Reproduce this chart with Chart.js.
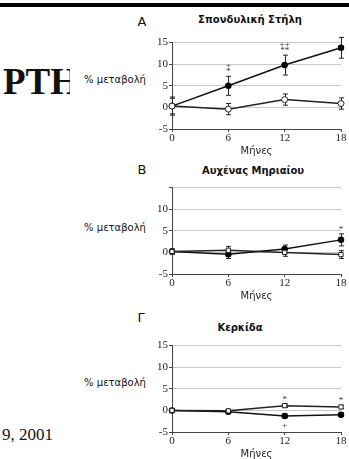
<!DOCTYPE html>
<html>
<head>
<meta charset="utf-8">
<script src="https://cdn.jsdelivr.net/npm/chart.js@4.4.0/dist/chart.umd.min.js"></script>
<style>
  body { margin: 0; width: 349px; height: 459px; overflow: hidden; background: #fff; position: relative; font-family: "DejaVu Sans", sans-serif; color: #111; }
  .t { position: absolute; transform: translate(-50%, -50%); white-space: nowrap; }
  .ttl { font-weight: bold; font-size: 10px; }
  .lbl { font-size: 10px; }
  .let { font-size: 13px; }
  canvas { position: absolute; left: 150px; }
</style>
</head>
<body>
<div style="position:absolute;left:0;top:3px;width:349px;height:4px;background:#000"></div>
<div style="position:absolute;left:3px;top:61px;width:67px;height:42px;overflow:hidden;font:bold 37px 'Liberation Serif',serif;line-height:42px">PTH</div>
<div style="position:absolute;left:2px;top:424px;font:17px 'Liberation Serif',serif;line-height:22px">9, 2001</div>

<div class="t let" style="left:142px;top:21px">A</div>
<div class="t ttl" style="left:250px;top:19px">Σπονδυλική Στήλη</div>
<div class="t lbl" style="left:115px;top:79px">% μεταβολή</div>
<canvas id="chA" width="199" height="125" style="top:35px"></canvas>

<div class="t let" style="left:142px;top:169px">B</div>
<div class="t ttl" style="left:253px;top:170px">Αυχένας Μηριαίου</div>
<div class="t lbl" style="left:115px;top:227px">% μεταβολή</div>
<canvas id="chB" width="199" height="125" style="top:180px"></canvas>

<div class="t let" style="left:141px;top:317px">Γ</div>
<div class="t ttl" style="left:240px;top:327px">Κερκίδα</div>
<div class="t lbl" style="left:115px;top:382px">% μεταβολή</div>
<canvas id="chC" width="199" height="125" style="top:338px"></canvas>

<script>
const months = [0, 6, 12, 18];
const yMin = -5, yMax = 15, yStep = 5;

// Σπονδυλική Στήλη
const spineFilled = [0.3, 5.0, 9.8, 13.8];
const spineFilledErr = [2.1, 2.2, 2.3, 2.4];
const spineOpen = [0.3, -0.4, 1.8, 0.9];
const spineOpenErr = [1.8, 1.3, 1.3, 1.3];
const spineFilledNotes = ['', '+\n*', '++\n**', '++\n**'];

// Αυχένας Μηριαίου
const femurFilled = [0.2, -0.4, 0.8, 2.9];
const femurFilledErr = [0.6, 1.0, 0.9, 1.4];
const femurOpen = [0.2, 0.5, 0.0, -0.5];
const femurOpenErr = [0.5, 0.9, 0.9, 0.9];
const femurFilledNotes = ['', '', '', '*'];

// Κερκίδα
const radiusFilled = [0.0, -0.3, -1.3, -1.0];
const radiusFilledErr = [0.2, 0.3, 0.4, 0.4];
const radiusOpen = [0.0, -0.1, 1.1, 0.8];
const radiusOpenErr = [0.2, 0.3, 0.4, 0.4];
const radiusOpenNotes = ['', '', '*', '*'];
const radiusFilledNotesBelow = ['', '', '+', ''];

const errorBars = {
  id: 'errorBars',
  beforeDatasetsDraw(chart) {
    const ctx = chart.ctx, x = chart.scales.x, y = chart.scales.y;
    chart.data.datasets.forEach(ds => {
      if (!ds.errors) return;
      ctx.save();
      ctx.strokeStyle = '#222';
      ctx.lineWidth = 1;
      ds.data.forEach((p, i) => {
        const px = Math.round(x.getPixelForValue(p.x)) + 0.5;
        const top = y.getPixelForValue(p.y + ds.errors[i]);
        const bot = y.getPixelForValue(p.y - ds.errors[i]);
        ctx.beginPath();
        ctx.moveTo(px, top); ctx.lineTo(px, bot);
        ctx.moveTo(px - 2.5, top); ctx.lineTo(px + 2.5, top);
        ctx.moveTo(px - 2.5, bot); ctx.lineTo(px + 2.5, bot);
        ctx.stroke();
      });
      ctx.restore();
    });
  },
  afterDatasetsDraw(chart) {
    const ctx = chart.ctx, x = chart.scales.x, y = chart.scales.y;
    ctx.save();
    ctx.fillStyle = '#333';
    ctx.font = '9px "Liberation Serif", serif';
    ctx.textAlign = 'center';
    chart.data.datasets.forEach(ds => {
      ds.data.forEach((p, i) => {
        const px = x.getPixelForValue(p.x);
        const err = ds.errors ? ds.errors[i] : 0;
        if (ds.notes && ds.notes[i]) {
          const lines = ds.notes[i].split('\n').reverse();
          let yy = y.getPixelForValue(p.y + err) - 2;
          ctx.textBaseline = 'bottom';
          lines.forEach(l => { ctx.fillText(l, px, yy + 2); yy -= 6; });
        }
        if (ds.notesBelow && ds.notesBelow[i]) {
          ctx.textBaseline = 'top';
          ctx.fillText(ds.notesBelow[i], px, y.getPixelForValue(p.y - err) + 3);
        }
      });
    });
    ctx.restore();
  }
};

function pts(vals) {
  return months.map((m, i) => ({ x: m, y: vals[i] }));
}

function makePanel(id, filled, filledErr, open, openErr, opts) {
  new Chart(document.getElementById(id), {
    type: 'line',
    data: {
      datasets: [
        {
          data: pts(open), errors: openErr, notes: opts.openNotes,
          borderColor: '#222', borderWidth: 1.5, pointStyle: opts.openStyle,
          pointRadius: 3, pointBackgroundColor: '#fff', pointBorderColor: '#222',
          pointBorderWidth: 1, clip: false
        },
        {
          data: pts(filled), errors: filledErr, notes: opts.filledNotes, notesBelow: opts.filledBelow,
          borderColor: '#111', borderWidth: 1.5, pointStyle: 'circle',
          pointRadius: 2.5, pointBackgroundColor: '#000', pointBorderColor: '#000',
          clip: false
        }
      ]
    },
    options: {
      responsive: false,
      animation: false,
      layout: { padding: { top: 7, right: 8, left: 0, bottom: 0 } },
      plugins: { legend: { display: false }, tooltip: { enabled: false } },
      scales: {
        x: {
          type: 'linear', min: 0, max: 18,
          ticks: { stepSize: 6, color: '#222', padding: 0, font: { family: '"Liberation Serif", serif', size: 11 } },
          grid: { drawOnChartArea: false, drawTicks: true, tickLength: 3, tickColor: '#444' },
          border: { color: '#444' },
          title: { display: true, text: 'Μήνες', color: '#222', padding: { top: 0, bottom: 3 }, font: { family: '"DejaVu Sans", sans-serif', size: 10 } },
          afterFit(s) { s.height = 31; }
        },
        y: {
          min: yMin, max: yMax,
          ticks: {
            stepSize: yStep, color: '#222', padding: 1,
            font: { family: '"Liberation Serif", serif', size: 11 },
            callback: v => (opts.hideTop && v === yMax) ? '' : v
          },
          grid: { color: '#c8c8c8', tickLength: 3, tickColor: '#444' },
          border: { color: '#444' },
          afterFit(s) { s.width = 22; }
        }
      }
    },
    plugins: [errorBars]
  });
}

makePanel('chA', spineFilled, spineFilledErr, spineOpen, spineOpenErr,
  { openStyle: 'circle', filledNotes: spineFilledNotes });
makePanel('chB', femurFilled, femurFilledErr, femurOpen, femurOpenErr,
  { openStyle: 'rect', filledNotes: femurFilledNotes, hideTop: true });
makePanel('chC', radiusFilled, radiusFilledErr, radiusOpen, radiusOpenErr,
  { openStyle: 'rect', openNotes: radiusOpenNotes, filledBelow: radiusFilledNotesBelow });
</script>
</body>
</html>
